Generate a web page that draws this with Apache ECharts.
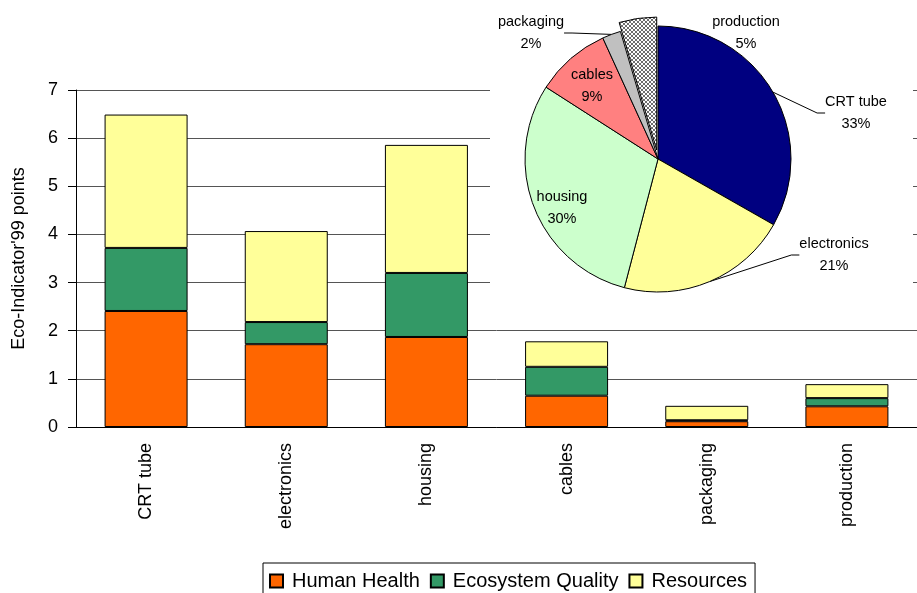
<!DOCTYPE html>
<html>
<head>
<meta charset="utf-8">
<script src="https://cdn.jsdelivr.net/npm/echarts@6/dist/echarts.min.js"></script>
<style>
  html, body { margin: 0; padding: 0; background: #fff; }
  #chart { width: 917px; height: 593px; }
</style>
</head>
<body>
<div id="chart"></div>
<script>
// categories and stacked values (Eco-Indicator'99 points)
const categories = ['CRT tube', 'electronics', 'housing', 'cables', 'packaging', 'production'];
const humanHealth = [2.41, 1.72, 1.87, 0.65, 0.12, 0.43];
const ecosystemQuality = [1.31, 0.46, 1.33, 0.60, 0.02, 0.17];
const resources = [2.77, 1.89, 2.66, 0.53, 0.30, 0.29];
const yTicks = [0, 1, 2, 3, 4, 5, 6, 7];
const explodedSlice = 'production';

const FONT = 'Liberation Sans, Arial, sans-serif';
const NONE = 'rgba(0,0,0,0)';

// hatch pattern for the exploded slice
function hatch () {
  const c = document.createElement('canvas');
  c.width = 4; c.height = 4;
  const ctx = c.getContext('2d');
  ctx.fillStyle = '#ffffff';
  ctx.fillRect(0, 0, 4, 4);
  ctx.fillStyle = '#6e6e6e';
  for (let i = 0; i < 4; i++) {
    ctx.fillRect(i, i, 1, 1);
    ctx.fillRect(i, 3 - i, 1, 1);
  }
  return c;
}

const pieColors = ['#000080', '#ffff99', '#ccffcc', '#ff8080', '#c0c0c0', { image: hatch(), repeat: 'repeat' }];
// pie = total per category
const totals = categories.map((c, i) => +(humanHealth[i] + ecosystemQuality[i] + resources[i]).toFixed(2));
const sum = totals.reduce((a, b) => a + b, 0);

// main pie: every slice except the exploded one
const pieData = categories.map((name, i) => {
  const d = { name: name, value: totals[i], itemStyle: { color: pieColors[i] } };
  if (name === 'cables' || name === 'housing') d.label = { position: 'inside' };
  if (name === explodedSlice) {
    d.itemStyle = { color: NONE, borderWidth: 0 };
    d.labelLine = { show: false };
  }
  return d;
});
// second pie: only the exploded slice is drawn
const explodeData = categories.map((name, i) => ({
  name: name,
  value: totals[i],
  itemStyle: name === explodedSlice ? { color: pieColors[i] } : { color: NONE, borderWidth: 0 }
}));

// shift of the exploded slice, along its middle angle
const pieCenter = [658, 159];
const ex = categories.indexOf(explodedSlice);
const before = totals.slice(0, ex).reduce((a, b) => a + b, 0);
const mid = 2 * Math.PI * (before + totals[ex] / 2) / sum;
const explodeCenter = [pieCenter[0] + 9 * Math.sin(mid), pieCenter[1] - 9 * Math.cos(mid)];

// where the pie labels sit (text centres)
const pieLabelPos = {
  'CRT tube': [856, 113],
  'electronics': [834, 255],
  'housing': [562, 208],
  'cables': [592, 86],
  'packaging': [531, 33],
  'production': [746, 33]
};

const chart = echarts.init(document.getElementById('chart'));
const barBase = { type: 'bar', stack: 'total', barWidth: 83, z: 2 };
chart.setOption({
  animation: false,
  textStyle: { fontFamily: FONT },
  grid: { left: 76, top: 90, bottom: 166, right: -13 },
  legend: {
    data: ['Human Health', 'Ecosystem Quality', 'Resources'],
    left: 263,
    top: 563,
    padding: [8, 8, 14, 6],
    borderColor: '#000',
    borderWidth: 1,
    itemWidth: 13,
    itemHeight: 13,
    itemGap: 10,
    icon: 'rect',
    textStyle: { fontSize: 20, color: '#000', fontFamily: FONT, padding: [0, 0, 0, 4] }
  },
  xAxis: {
    type: 'category',
    data: categories,
    axisLine: { lineStyle: { color: '#000' } },
    axisTick: { length: 8, lineStyle: { color: '#000' } },
    axisLabel: { rotate: 90, fontSize: 18, color: '#000', margin: 16, fontFamily: FONT }
  },
  yAxis: {
    type: 'value',
    min: yTicks[0],
    max: yTicks[yTicks.length - 1],
    interval: 1,
    name: "Eco-Indicator'99 points",
    nameLocation: 'middle',
    nameGap: 48,
    nameTextStyle: { fontSize: 18, color: '#000', fontFamily: FONT },
    axisLine: { show: true, lineStyle: { color: '#000' } },
    axisTick: { show: true, length: 8, lineStyle: { color: '#000' } },
    axisLabel: { fontSize: 18, color: '#000', margin: 18, fontFamily: FONT },
    splitLine: { lineStyle: { color: '#555', width: 1 } }
  },
  graphic: [{
    type: 'rect',
    z: 1,
    shape: { x: 490, y: 0, width: 423, height: 310 },
    style: { fill: '#fff' }
  }],
  series: [
    Object.assign({}, barBase, { name: 'Human Health', data: humanHealth, itemStyle: { color: '#ff6600', borderColor: '#000', borderWidth: 1 } }),
    Object.assign({}, barBase, { name: 'Ecosystem Quality', data: ecosystemQuality, itemStyle: { color: '#339966', borderColor: '#000', borderWidth: 1 } }),
    Object.assign({}, barBase, { name: 'Resources', data: resources, itemStyle: { color: '#ffff99', borderColor: '#000', borderWidth: 1 } }),
    {
      type: 'pie',
      z: 5,
      center: pieCenter,
      radius: 133,
      startAngle: 90,
      clockwise: true,
      percentPrecision: 0,
      itemStyle: { borderColor: '#000', borderWidth: 1 },
      emphasis: { disabled: true },
      label: {
        formatter: '{b}\n{d}%',
        fontSize: 14.5,
        lineHeight: 22,
        color: '#000',
        align: 'center',
        fontFamily: FONT
      },
      labelLine: { show: true, length: 20, length2: 8, lineStyle: { color: '#000', width: 1 } },
      labelLayout: function (params) {
        const p = pieLabelPos[categories[params.dataIndex]];
        return { x: p[0], y: p[1], align: 'center', verticalAlign: 'middle' };
      },
      data: pieData
    },
    {
      type: 'pie',
      z: 5,
      silent: true,
      center: explodeCenter,
      radius: 133,
      startAngle: 90,
      clockwise: true,
      itemStyle: { borderColor: '#000', borderWidth: 1 },
      label: { show: false },
      labelLine: { show: false },
      data: explodeData
    }
  ]
});
</script>
</body>
</html>
